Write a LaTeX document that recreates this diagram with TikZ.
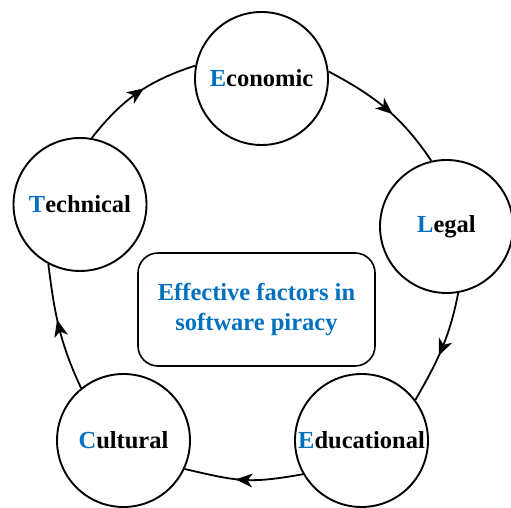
\documentclass[tikz,border=0pt]{standalone}
\usepackage{fontspec}
\setmainfont{Liberation Serif}
\usetikzlibrary{decorations.markings}
\definecolor{factorblue}{HTML}{0070C0}
\newcommand{\capletter}[1]{\textcolor{factorblue}{#1}}
\tikzset{
  factor/.style={circle, draw, line width=1.9pt, minimum size=133pt, inner sep=0pt,
    font=\fontsize{24.5}{29}\selectfont\bfseries},
  topic/.style={draw, line width=1.6pt, rounded corners=20pt, minimum width=237pt,
    minimum height=113pt, align=center, text=factorblue,
    font=\fontsize{24.5}{30}\selectfont\bfseries},
  % barbed arrowhead placed halfway along each arc
  flow/.style={line width=1.8pt, postaction={decorate},
    decoration={markings, mark=at position 0.5 with
      {\fill (8pt,0) -- (-9pt,7pt) -- (-4pt,0) -- (-9pt,-7pt) -- cycle;}}},
}
\begin{document}
\begin{tikzpicture}[x=1pt,y=1pt]
  \useasboundingbox (0,0) rectangle (511,508);

  % the five factors around the cycle
  \node[factor] (eco) at (261.5,429.5) {\capletter{E}conomic};
  \node[factor] (leg) at (446.5,281.5) {\capletter{L}egal};
  \node[factor] (edu) at (361.5,67.5)  {\capletter{E}ducational};
  \node[factor] (cul) at (123.5,67.5)  {\capletter{C}ultural};
  \node[factor] (tec) at (80,303.5)    {\capletter{T}echnical};

  % central topic
  \node[topic] (topic) at (256.5,198.5) {Effective factors in\\software piracy};

  % clockwise arcs between the factors
  \draw[flow] (tec.80)  to[out=52,  in=198] (eco.169);
  \draw[flow] (eco.6)   to[out=-28, in=124] (leg.103.5);
  \draw[flow] (leg.280) to[out=259, in=60]  (edu.37);
  \draw[flow] (edu.210) to[out=190, in=347, looseness=1.2] (cul.335);
  \draw[flow] (cul.129) to[out=115, in=277] (tec.242);
\end{tikzpicture}
\end{document}
